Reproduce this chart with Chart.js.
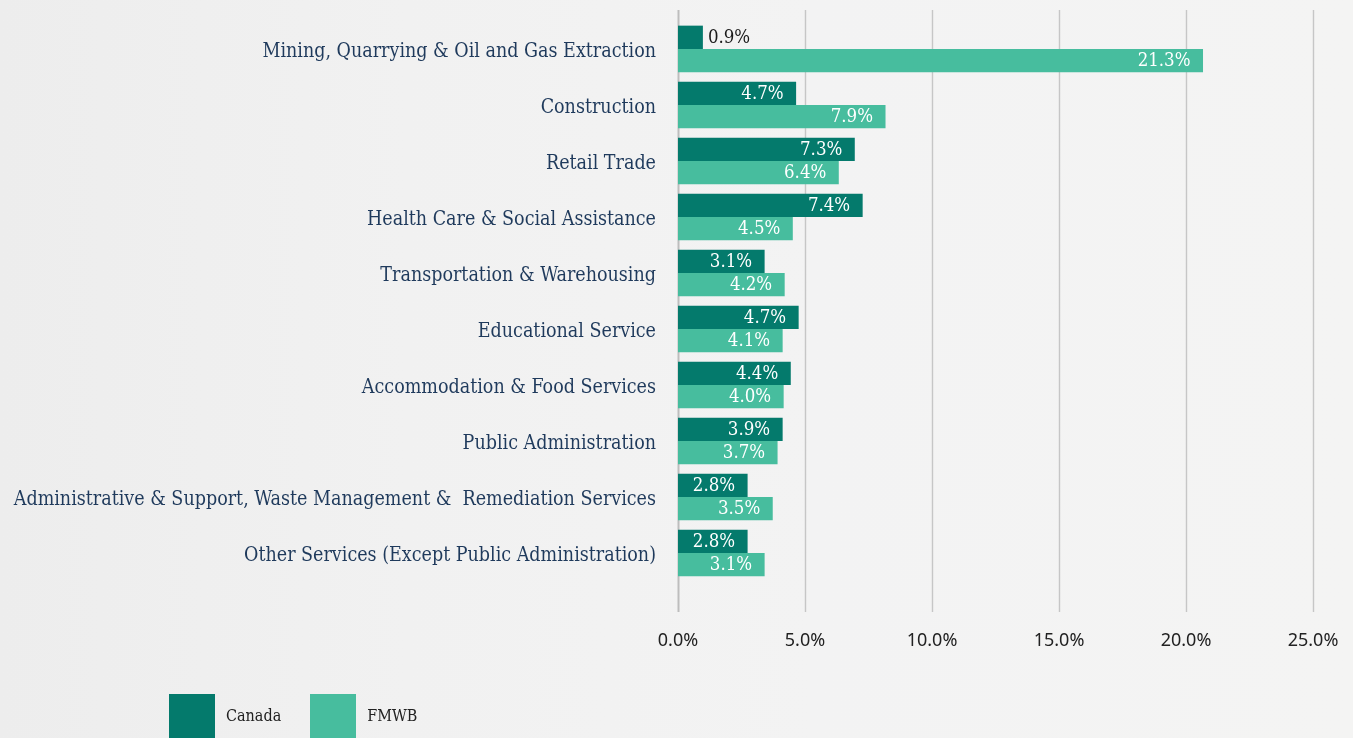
<!DOCTYPE html>
<html>
<head>
<meta charset="utf-8">
<script src="https://cdn.jsdelivr.net/npm/chart.js@4/dist/chart.umd.min.js"></script>
<style>
  html, body { margin: 0; padding: 0; }
  body {
    width: 1353px; height: 738px; overflow: hidden; position: relative;
    background: linear-gradient(90deg, #ededed 0%, #f1f1f1 30%, #f3f3f3 60%, #f4f4f3 100%);
  }
  #c { position: absolute; left: 0; top: 0; }
  #legend { position: absolute; left: 169px; top: 694px; display: flex; align-items: center;
    font-family: 'DejaVu Serif Condensed', 'DejaVu Serif', serif; font-size: 16px; color: #222; }
  .item { display: flex; align-items: center; margin-right: 29px; }
  .box { width: 46px; height: 46px; margin-right: 11px; }
  .item span { position: relative; top: -2px; }
</style>
</head>
<body>
<canvas id="c" width="1353" height="738"></canvas>
<div id="legend"></div>
<script>
const categories = [
  'Mining, Quarrying & Oil and Gas Extraction',
  'Construction',
  'Retail Trade',
  'Health Care & Social Assistance',
  'Transportation & Warehousing',
  'Educational Service',
  'Accommodation & Food Services',
  'Public Administration',
  'Administrative & Support, Waste Management &  Remediation Services',
  'Other Services (Except Public Administration)'
];
const seriesNames = ['Canada', 'FMWB'];
// bar lengths as drawn in the picture (%)
const canadaValues = [0.98, 4.65, 6.96, 7.27, 3.41, 4.75, 4.44, 4.12, 2.74, 2.74];
const fmwbValues = [20.67, 8.17, 6.33, 4.52, 4.20, 4.12, 4.16, 3.92, 3.73, 3.41];
// printed value labels
const canadaLabels = ['0.9%', '4.7%', '7.3%', '7.4%', '3.1%', '4.7%', '4.4%', '3.9%', '2.8%', '2.8%'];
const fmwbLabels = ['21.3%', '7.9%', '6.4%', '4.5%', '4.2%', '4.1%', '4.0%', '3.7%', '3.5%', '3.1%'];
const xTicks = [0, 5, 10, 15, 20, 25];
const colors = ['#047a6c', '#47bd9e'];

const SERIF = "'DejaVu Serif Condensed', 'DejaVu Serif', serif";
const SANS = "'Noto Sans', 'Open Sans', sans-serif";

const gridPlugin = {
  id: 'extGrid',
  beforeDatasetsDraw(chart) {
    const { ctx, chartArea, scales } = chart;
    ctx.save();
    xTicks.forEach(v => {
      const x = Math.round(scales.x.getPixelForValue(v)) + 0.5;
      ctx.beginPath();
      ctx.strokeStyle = v === 0 ? '#bdbdbd' : '#c6c6c6';
      ctx.lineWidth = v === 0 ? 2 : 1.4;
      ctx.moveTo(x, chartArea.top - 11);
      ctx.lineTo(x, chartArea.bottom + 31);
      ctx.stroke();
    });
    ctx.restore();
  }
};

const labelPlugin = {
  id: 'valueLabels',
  afterDatasetsDraw(chart) {
    const { ctx } = chart;
    const allLabels = [canadaLabels, fmwbLabels];
    ctx.save();
    ctx.font = '18.5px ' + SERIF;
    ctx.textBaseline = 'middle';
    chart.data.datasets.forEach((ds, di) => {
      const meta = chart.getDatasetMeta(di);
      meta.data.forEach((el, i) => {
        const txt = allLabels[di][i];
        const w = ctx.measureText(txt).width;
        const len = el.x - el.base;
        if (w + 16 < len) {
          ctx.textAlign = 'right';
          ctx.fillStyle = '#ffffff';
          ctx.fillText(txt, el.x - 12.5, el.y + 1);
        } else {
          ctx.textAlign = 'left';
          ctx.fillStyle = '#1a1a1a';
          ctx.fillText(txt, el.x + 5, el.y + 1);
        }
      });
    });
    ctx.restore();
  }
};

const chart = new Chart(document.getElementById('c'), {
  type: 'bar',
  data: {
    labels: categories,
    datasets: [
      { label: seriesNames[0], data: canadaValues, backgroundColor: colors[0], categoryPercentage: 0.834, barPercentage: 1 },
      { label: seriesNames[1], data: fmwbValues, backgroundColor: colors[1], categoryPercentage: 0.834, barPercentage: 1 }
    ]
  },
  options: {
    indexAxis: 'y',
    responsive: false,
    animation: false,
    layout: { padding: { top: 21, right: 40, bottom: 77, left: 0 } },
    plugins: { legend: { display: false }, tooltip: { enabled: false } },
    scales: {
      x: {
        min: 0, max: 25,
        afterBuildTicks(s) { s.ticks = xTicks.map(v => ({ value: v })); },
        afterFit(s) { s.height = 80; s.paddingLeft = 0; s.paddingRight = 0; },
        grid: { display: false, drawTicks: false },
        border: { display: false },
        ticks: {
          callback: v => Number(v).toFixed(1) + '%',
          font: { family: SANS, size: 18 },
          color: '#222222',
          padding: 49,
          maxRotation: 0
        }
      },
      y: {
        afterFit(s) { s.width = 678; s.paddingTop = 0; s.paddingBottom = 0; },
        grid: { display: false, drawTicks: false },
        border: { display: false },
        ticks: {
          font: { family: SERIF, size: 19.5 },
          color: '#1f3a5c',
          padding: 22,
          labelOffset: 3,
          autoSkip: false
        }
      }
    }
  },
  plugins: [gridPlugin, labelPlugin]
});

const legend = document.getElementById('legend');
chart.data.datasets.forEach(ds => {
  const item = document.createElement('div');
  item.className = 'item';
  const box = document.createElement('div');
  box.className = 'box';
  box.style.background = ds.backgroundColor;
  const t = document.createElement('span');
  t.textContent = ds.label;
  item.appendChild(box); item.appendChild(t);
  legend.appendChild(item);
});
</script>
</body>
</html>
